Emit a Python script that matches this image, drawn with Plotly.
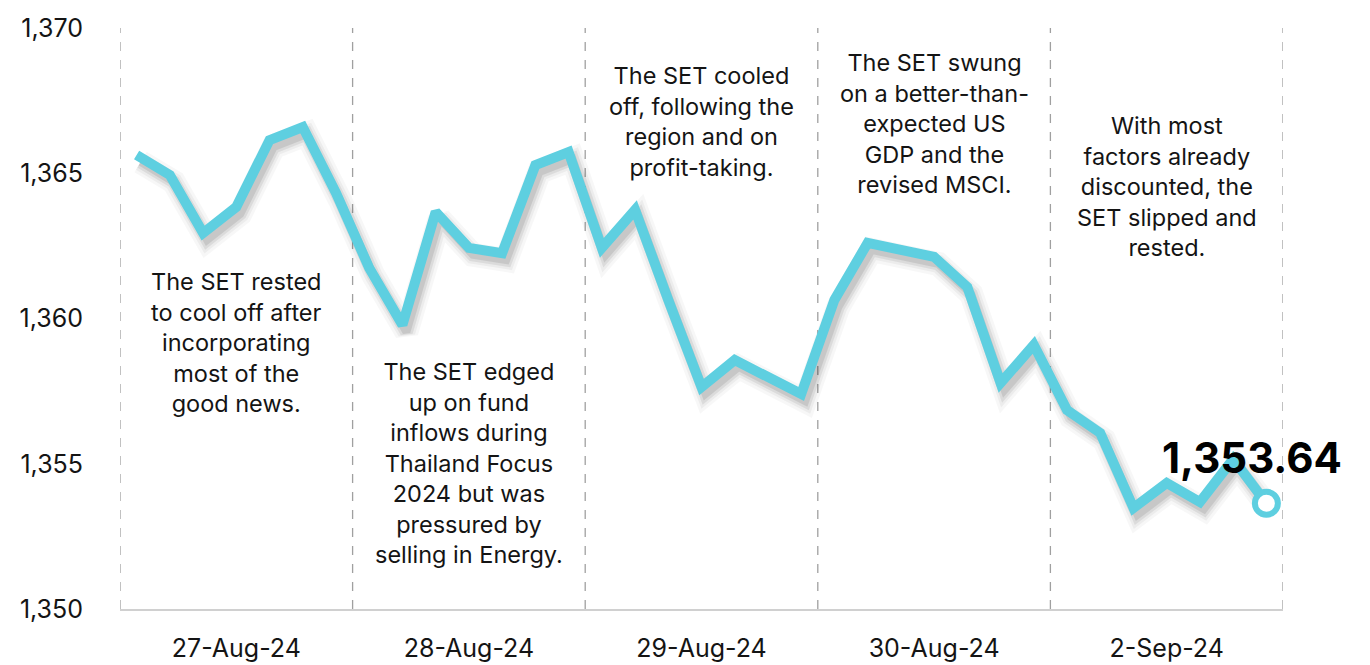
import plotly.graph_objects as go

days = ["27-Aug-24", "28-Aug-24", "29-Aug-24", "30-Aug-24", "2-Sep-24"]
points_per_day = 7
set_index = [
    1365.63, 1364.94, 1362.94, 1363.84, 1366.14, 1366.59, 1364.32,
    1361.74, 1359.78, 1363.67, 1362.43, 1362.25, 1365.28, 1365.73,
    1362.43, 1363.74, 1360.64, 1357.64, 1358.57, 1357.99, 1357.40,
    1360.64, 1362.60, 1362.36, 1362.12, 1361.08, 1357.78, 1359.09,
    1356.85, 1356.06, 1353.48, 1354.34, 1353.68, 1355.16, 1353.64,
]
last_label = "1,353.64"
notes = [
    "The SET rested<br>to cool off after<br>incorporating<br>most of the<br>good news.",
    "The SET edged<br>up on fund<br>inflows during<br>Thailand Focus<br>2024 but was<br>pressured by<br>selling in Energy.",
    "The SET cooled<br>off, following the<br>region and on<br>profit-taking.",
    "The SET swung<br>on a better-than-<br>expected US<br>GDP and the<br>revised MSCI.",
    "With most<br>factors already<br>discounted, the<br>SET slipped and<br>rested.",
]
note_y = [1359.17, 1355.03, 1366.78, 1366.70, 1364.56]
y_ticks = [1350, 1355, 1360, 1365, 1370]

x = list(range(len(set_index)))
LINE = "#5ECFE0"

fig = go.Figure()
# soft shadow under the line
for w, a in [(24, 0.03), (18, 0.045), (13, 0.07), (8, 0.09)]:
    fig.add_trace(go.Scatter(
        x=[v + 0.12 for v in x], y=[v - 0.24 for v in set_index],
        mode="lines", line=dict(color=f"rgba(0,0,0,{a})", width=w),
        hoverinfo="skip", showlegend=False))
fig.add_trace(go.Scatter(
    x=x, y=set_index, mode="lines",
    line=dict(color=LINE, width=10), showlegend=False))
fig.add_trace(go.Scatter(
    x=[x[-1]], y=[set_index[-1]], mode="markers",
    marker=dict(size=23, color="white", line=dict(color=LINE, width=6)),
    showlegend=False, cliponaxis=False))

n_days = len(days)
for d in range(n_days + 1):
    bx = d * points_per_day - 0.5
    fig.add_shape(type="line", xref="x", yref="paper", x0=bx, x1=bx, y0=0, y1=1,
                  line=dict(color="#A0A0A0", width=1.3, dash="dash"), layer="below")

centers = [d * points_per_day + (points_per_day - 1) / 2 for d in range(n_days)]
for c, t, yy in zip(centers, notes, note_y):
    fig.add_annotation(x=c, y=yy, text=t, showarrow=False, xref="x", yref="y",
                       font=dict(family="Inter", size=23.5, color="#141414"),
                       align="center", yanchor="middle")

fig.add_annotation(x=x[-1], y=set_index[-1], text=f"<b>{last_label}</b>", showarrow=False,
                   xshift=-14, yshift=46,
                   font=dict(family="Inter", size=42, color="#000000", weight=800))

fig.update_layout(
    width=1370, height=665,
    margin=dict(l=112, r=95, t=20, b=64, autoexpand=False),
    plot_bgcolor="white", paper_bgcolor="white",
    xaxis=dict(range=[-0.5, len(set_index) - 0.5], tickmode="array",
               tickvals=centers, ticktext=days, showgrid=False, zeroline=False,
               showline=True, linecolor="#D0D0D0", linewidth=2,
               tickfont=dict(family="Inter", size=25, color="#141414"),
               ticks="", ticklabelstandoff=16),
    yaxis=dict(range=[1350, 1370], tickmode="array", tickvals=y_ticks,
               ticktext=[f"{v:,}" for v in y_ticks], showgrid=False, zeroline=False,
               showline=False, tickfont=dict(family="Inter", size=25, color="#141414"),
               ticks="", ticklabelstandoff=36),
)

fig.write_html("out.html")
